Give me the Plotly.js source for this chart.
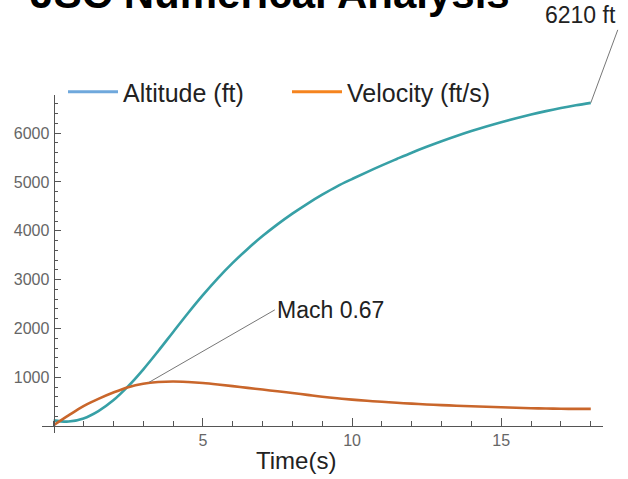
<!DOCTYPE html>
<html>
<head>
<meta charset="utf-8">
<script src="https://cdn.plot.ly/plotly-3.0.1.min.js"></script>
<style>html,body{margin:0;padding:0;background:#fff;}#chart{width:628px;height:479px;}</style>
</head>
<body>
<div id="chart"></div>
<script>
// Data
const timeS = [0,0.5,1,1.5,2,2.5,3,3.5,4,4.5,5,5.5,6,6.5,7,7.5,8,8.5,9,9.5,10,10.5,11,11.5,12,12.5,13,13.5,14,14.5,15,15.5,16,16.5,17,17.5,18];
const altitudeFt = [120,95,160,310,530,820,1160,1535,1925,2313,2683,3028,3343,3630,3892,4132,4352,4554,4740,4911,5060,5203,5340,5472,5600,5720,5834,5941,6042,6136,6224,6306,6382,6451,6514,6570,6620];
const velocityFtS = [20,220,410,560,690,800,870,905,915,905,885,855,820,785,750,715,680,642,604,572,545,520,500,480,462,446,432,420,408,398,388,378,369,362,357,355,355];
const seriesNames = ['Altitude (ft)', 'Velocity (ft/s)'];
const xTickVals = [5, 10, 15];
const yTickVals = [1000, 2000, 3000, 4000, 5000, 6000];
const noteX = [18, 3.2];
const noteY = [6620, 900];
const noteText = ['6210 ft', 'Mach 0.67'];
const chartTitle = 'JSC Numerical Analysis';
const xLabel = 'Time(s)';

const W = 628, H = 479;
const L = 41.7, R = 25.3, T = 95, B = 45.5;
const plotW = W - L - R, plotH = H - T - B;

const curveCols = ['#37a0a6', '#c9662b'];
const legendCols = ['#6fa8dc', '#f5841f'];
const font = '"Liberation Sans", Arial, sans-serif';

const traces = [
  {x: timeS, y: altitudeFt, mode: 'lines', line: {color: curveCols[0], width: 2.6, shape: 'spline', smoothing: 1}, showlegend: false, hoverinfo: 'skip'},
  {x: timeS, y: velocityFtS, mode: 'lines', line: {color: curveCols[1], width: 2.6, shape: 'spline', smoothing: 1}, showlegend: false, hoverinfo: 'skip'},
  {x: [null], y: [null], mode: 'lines', name: seriesNames[0], line: {color: legendCols[0], width: 3}},
  {x: [null], y: [null], mode: 'lines', name: seriesNames[1], line: {color: legendCols[1], width: 3}}
];

const layout = {
  width: W, height: H,
  margin: {l: L, r: R, t: T, b: B, pad: 0, autoexpand: false},
  paper_bgcolor: '#fff', plot_bgcolor: '#fff',
  font: {family: font, color: '#222'},
  title: {text: chartTitle, font: {family: font, size: 42, color: '#000', weight: 'bold'},
          xref: 'container', yref: 'container', x: 270 / W, xanchor: 'center', y: 1 - 8 / H, yanchor: 'bottom', automargin: false},
  showlegend: true,
  legend: {orientation: 'h', xref: 'container', yref: 'container', x: 63 / W, xanchor: 'left', y: 1 - 92 / H, yanchor: 'middle',
           font: {size: 25, color: '#222', family: font}, bgcolor: 'rgba(0,0,0,0)', entrywidth: 159, itemwidth: 50},
  xaxis: {range: [-0.39, 18.41], showgrid: false, zeroline: false, showline: true, linecolor: '#555', linewidth: 1,
          anchor: 'free', position: (433.5 - 426.7) / plotH, automargin: false,
          tickmode: 'array', tickvals: xTickVals, ticks: 'inside', ticklen: 8, tickcolor: '#555', tickwidth: 1,
          tickfont: {size: 16, color: '#666', family: font},
          minor: {ticks: 'inside', ticklen: 5, tickcolor: '#555', tickwidth: 1, dtick: 1, tick0: 0}},
  yaxis: {range: [-139, 6781], showgrid: false, zeroline: false, showline: true, linecolor: '#555', linewidth: 1,
          anchor: 'free', position: (53.3 - L) / plotW, automargin: false, ticklabelstandoff: 1,
          tickmode: 'array', tickvals: yTickVals, ticks: 'inside', ticklen: 6, tickcolor: '#555', tickwidth: 1,
          tickfont: {size: 16, color: '#666', family: font},
          minor: {ticks: 'inside', ticklen: 3.5, tickcolor: '#555', tickwidth: 1, dtick: 200, tick0: 0}},
  annotations: [
    {x: noteX[0], y: noteY[0], xref: 'x', yref: 'y', text: noteText[0], showarrow: true, arrowhead: 0, arrowwidth: 1, arrowcolor: '#777',
     ax: 27, ay: -73, xanchor: 'right', yanchor: 'bottom', font: {size: 23, color: '#222', family: font}},
    {x: noteX[1], y: noteY[1], xref: 'x', yref: 'y', text: noteText[1], showarrow: true, arrowhead: 0, arrowwidth: 1, arrowcolor: '#777',
     ax: 125.7, ay: -72.4, xanchor: 'left', yanchor: 'middle', font: {size: 23, color: '#222', family: font}},
    {x: (295.5 - L) / plotW, y: -(461 - 433.5) / plotH, xref: 'paper', yref: 'paper', text: xLabel, showarrow: false, xanchor: 'center', yanchor: 'middle',
     font: {size: 24, color: '#222', family: font}}
  ]
};

Plotly.newPlot('chart', traces, layout, {displayModeBar: false, staticPlot: true});
</script>
</body>
</html>
